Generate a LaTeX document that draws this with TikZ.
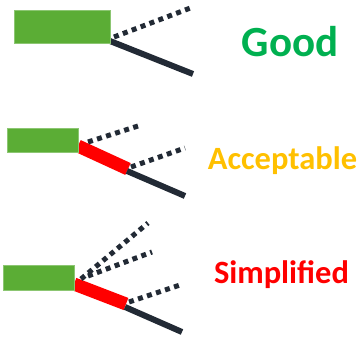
\documentclass[tikz,border=0pt]{standalone}
\usepackage{fontspec}
\setmainfont{Carlito}
\definecolor{barGreen}{HTML}{5BAD35}
\definecolor{wireDark}{HTML}{222A35}
\definecolor{okGreen}{HTML}{00B050}
\definecolor{okAmber}{HTML}{FFC000}
\definecolor{okRed}{HTML}{FF0000}
\tikzset{
  bar/.style={fill=barGreen, draw=barGreen!70!white, line width=0.6pt},
  wire/.style={wireDark, line width=6pt},
  dotwire/.style={wireDark, line width=5pt, dash pattern=on 5pt off 4.5pt},
  redband/.style={okRed, line width=13pt},
  label/.style={font=\bfseries, anchor=base, inner sep=0pt},
}
\begin{document}
\begin{tikzpicture}[x=1pt,y=-1pt]
\path[use as bounding box] (0,0) rectangle (364,342);

% --- Good: single branch point at the block
\coordinate (g0) at (110,41);
\coordinate (g1) at (193,74);
\coordinate (g2) at (114,37);
\coordinate (g3) at (193,7);
\draw[wire] (g0) -- (g1);
\draw[dotwire] (g2) -- (g3);
\filldraw[bar] (14,10) rectangle (110,43);
\node[label, text=okGreen, font=\bfseries\fontsize{43}{43}\selectfont] (good) at (290,57) {Good};

% --- Acceptable: short red segment
\coordinate (a0) at (78,146);
\coordinate (a1) at (128,169);
\coordinate (a2) at (127,171);
\coordinate (a3) at (185,196);
\coordinate (a4) at (88,142);
\coordinate (a5) at (138,126);
\coordinate (a6) at (131,167);
\coordinate (a7) at (185,148);
\draw[redband] (a0) -- (a1);
\draw[wire] (a2) -- (a3);
\draw[dotwire] (a4) -- (a5);
\draw[dotwire] (a6) -- (a7);
\filldraw[bar] (7,128) rectangle (78,152);
\node[label, text=okAmber, font=\bfseries\fontsize{32.5}{32.5}\selectfont] (acc) at (282.5,169) {Acceptable};

% --- Simplified: several branches lumped together
\coordinate (s0) at (74,284);
\coordinate (s1) at (126,304);
\coordinate (s2) at (125,307);
\coordinate (s3) at (182,332);
\coordinate (s4) at (81,279);
\coordinate (s5) at (148,223);
\coordinate (s6) at (88,276);
\coordinate (s7) at (152,252);
\coordinate (s8) at (129,302);
\coordinate (s9) at (183,284);
\draw[redband] (s0) -- (s1);
\draw[wire] (s2) -- (s3);
\draw[dotwire] (s4) -- (s5);
\draw[dotwire] (s6) -- (s7);
\draw[dotwire] (s8) -- (s9);
\filldraw[bar] (3,265) rectangle (74,290);
\node[label, text=okRed, font=\bfseries\fontsize{32.5}{32.5}\selectfont] (simp) at (281.5,283) {Simplified};
\end{tikzpicture}
\end{document}
